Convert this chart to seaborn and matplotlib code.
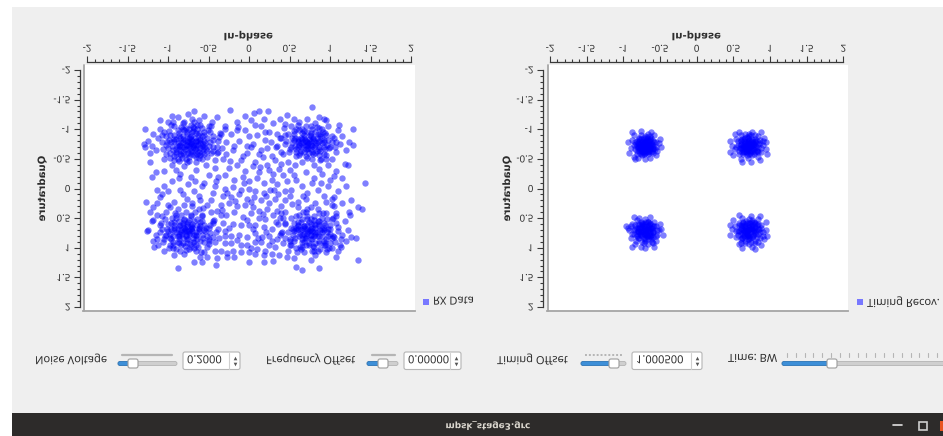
import numpy as np
import pandas as pd
import matplotlib
matplotlib.use("Agg")
import matplotlib.pyplot as plt
import seaborn as sns
from matplotlib.patches import Rectangle, FancyBboxPatch
from matplotlib.lines import Line2D
from matplotlib.patheffects import AbstractPathEffect
from matplotlib.transforms import Affine2D
from matplotlib.text import Text

# ---------------------------------------------------------------- data
tick_values = [-2, -1.5, -1, -0.5, 0, 0.5, 1, 1.5, 2]
tick_labels = ["-2", "-1.5", "-1", "-0.5", "0", "0.5", "1", "1.5", "2"]

# received samples (before timing recovery): I / Q pairs
rx_upper_left = [
    (-0.72, -0.76), (-0.65, -0.80), (-0.80, -0.70), (-0.58, -0.72), (-0.90, -0.84), (-0.70, -0.95),
    (-0.75, -0.60), (-0.62, -0.62), (-0.85, -0.58), (-0.95, -0.72), (-0.52, -0.85), (-0.68, -1.02),
    (-0.88, -0.98), (-1.02, -0.88), (-0.55, -0.58), (-0.78, -0.50), (-0.98, -0.60), (-0.45, -0.70),
    (-0.60, -1.08), (-0.82, -1.10), (-1.08, -0.78), (-0.48, -0.95), (-0.92, -0.48), (-0.66, -0.45),
    (-1.10, -1.00), (-0.40, -0.60), (-0.74, -0.86), (-0.84, -0.78), (-0.63, -0.90), (-0.57, -0.66),
    (-0.77, -0.66), (-0.87, -0.66), (-0.69, -0.70), (-0.93, -0.90), (-1.00, -1.12), (-0.50, -1.05),
    (-0.38, -0.80), (-1.15, -0.65), (-0.70, -1.18), (-0.95, -0.40), (-0.58, -0.50), (-0.42, -0.48),
    (-1.05, -0.50), (-0.80, -0.38), (-0.62, -1.15), (-0.88, -1.20), (-1.18, -0.92), (-0.33, -0.68),
    (-0.46, -1.12), (-1.20, -0.72), (-0.76, -0.80), (-0.66, -0.74), (-0.81, -0.88), (-0.73, -0.68),
    (-0.60, -0.82), (-0.85, -0.74), (-0.71, -0.88), (-0.64, -0.58), (-0.90, -0.62), (-0.54, -0.76),
    (-0.99, -0.82), (-0.78, -1.02), (-0.56, -0.96), (-1.05, -0.95), (-0.68, -0.56), (-0.47, -0.60),
    (-0.83, -0.52), (-0.93, -1.05), (-0.72, -1.08), (-0.44, -0.88), (-1.12, -0.85), (-0.36, -0.94),
    (-1.25, -0.80), (-1.28, -0.70), (-1.22, -0.60), (-0.30, -1.00), (-0.75, -1.25), (-0.55, -1.22),
    (-0.95, -1.22), (-1.10, -1.15), (-0.74, -0.72), (-0.70, -0.80), (-0.66, -0.68), (-0.79, -0.82),
    (-0.61, -0.77), (-0.83, -0.70), (-0.72, -0.64), (-0.67, -0.86), (-0.88, -0.77), (-0.58, -0.88),
    (-0.76, -0.92), (-0.90, -0.66), (-0.64, -0.63), (-0.81, -0.60), (-0.55, -0.70), (-0.96, -0.78),
    (-0.69, -0.97), (-0.86, -0.94), (-0.60, -0.56), (-0.74, -0.54), (-0.92, -0.55), (-1.00, -0.68),
    (-0.52, -0.64), (-0.80, -0.98), (-0.64, -1.00), (-0.73, -0.78), (-0.68, -0.74), (-0.77, -0.74),
    (-0.71, -0.84), (-0.63, -0.80), (-0.82, -0.84), (-0.86, -0.72), (-0.60, -0.68), (-0.70, -0.62),
    (-0.78, -0.58), (-0.66, -0.94), (-0.92, -0.80), (-0.56, -0.80), (-0.84, -0.64), (-0.74, -1.00),
    (-0.97, -0.90), (-0.50, -0.72), (-0.62, -0.52), (-0.88, -0.50), (-1.03, -0.74), (-0.58, -1.02),
    (-0.84, -1.04), (-0.45, -0.82), (-0.98, -0.52), (-0.68, -1.12), (-1.08, -0.90), (-0.40, -0.70),
    (-0.94, -1.12), (-0.76, -0.44), (-0.52, -0.54),
]
rx_upper_left_core = [
    (-0.71, -0.75), (-0.75, -0.79), (-0.69, -0.71), (-0.78, -0.73), (-0.66, -0.81), (-0.73, -0.87),
    (-0.81, -0.79), (-0.63, -0.73), (-0.85, -0.86), (-0.67, -0.66), (-0.79, -0.67), (-0.89, -0.71),
    (-0.60, -0.83), (-0.76, -0.96), (-0.71, -0.59), (-0.57, -0.75), (-0.93, -0.84), (-0.84, -0.57),
    (-0.62, -0.93), (-0.94, -0.65), (-0.53, -0.67), (-0.82, -1.01), (-0.65, -0.53), (-1.01, -0.79),
    (-0.55, -0.91), (-0.87, -0.89), (-0.69, -1.04), (-0.99, -0.97), (-0.48, -0.79), (-0.90, -0.58),
    (-0.74, -0.47), (-0.58, -0.60), (-1.06, -0.67), (-0.51, -0.98), (-0.80, -1.13), (-1.03, -0.58),
    (-0.44, -0.64), (-0.64, -1.08), (-0.96, -1.07), (-0.86, -0.46),
]
rx_upper_right = [
    (0.72, -0.78), (0.78, -0.72), (0.66, -0.84), (0.84, -0.86), (0.60, -0.70), (0.76, -0.94),
    (0.90, -0.76), (0.68, -0.62), (0.55, -0.82), (0.95, -0.90), (0.82, -0.60), (0.62, -0.98),
    (1.00, -0.70), (0.50, -0.66), (0.86, -1.02), (0.70, -1.05), (0.58, -0.55), (1.05, -0.85),
    (0.92, -0.58), (0.48, -0.92), (0.78, -0.50), (1.08, -0.62), (0.62, -1.12), (0.98, -1.05),
    (0.45, -0.75), (0.74, -0.84), (0.80, -0.80), (0.70, -0.72), (0.88, -0.92), (0.64, -0.76),
    (0.76, -0.66), (0.86, -0.70), (0.56, -0.92), (0.94, -0.66), (0.68, -0.90), (0.82, -1.10),
    (0.52, -1.05), (1.10, -0.98), (0.40, -0.85), (0.88, -0.48), (0.65, -0.45), (1.12, -0.75),
    (0.72, -1.18), (0.95, -1.15), (0.42, -0.58), (0.58, -0.62), (1.02, -0.50), (0.80, -0.40),
    (0.55, -1.18), (1.15, -0.88), (0.35, -0.72), (0.92, -0.82), (0.60, -0.84), (0.84, -0.64),
    (0.70, -0.55), (1.20, -0.65), (0.48, -0.45), (0.98, -0.40), (0.66, -1.00), (0.90, -1.00),
    (0.74, -0.76), (0.69, -0.82), (0.80, -0.70), (0.64, -0.70), (0.76, -0.88), (0.85, -0.78),
    (0.70, -0.66), (0.60, -0.80), (0.90, -0.85), (0.82, -0.95), (0.66, -0.93), (0.96, -0.74),
    (0.58, -0.66), (0.74, -0.60), (0.88, -0.64), (0.53, -0.76), (0.98, -0.82), (0.78, -1.00),
    (0.71, -0.74), (0.77, -0.80), (0.67, -0.78), (0.73, -0.68), (0.82, -0.74), (0.62, -0.74),
    (0.79, -0.86), (0.68, -0.86), (0.87, -0.80), (0.64, -0.64), (0.78, -0.62), (0.92, -0.70),
    (0.57, -0.86), (0.72, -0.96), (0.85, -0.92), (0.94, -0.94), (0.52, -0.70), (0.62, -0.56),
    (1.02, -0.78), (0.86, -0.56), (0.76, -1.06), (0.58, -1.00), (1.06, -0.70), (0.46, -0.80),
    (0.95, -0.50),
]
rx_upper_right_core = [
    (0.73, -0.77), (0.70, -0.80), (0.76, -0.74), (0.67, -0.73), (0.79, -0.83), (0.64, -0.86),
    (0.83, -0.76), (0.71, -0.67), (0.88, -0.88), (0.61, -0.79), (0.75, -0.91), (0.86, -0.67),
    (0.57, -0.71), (0.93, -0.79), (0.68, -0.97), (0.79, -0.58), (0.53, -0.86), (0.91, -0.96),
    (0.63, -0.60), (0.99, -0.69), (0.84, -1.04), (0.55, -0.97), (0.72, -0.52), (1.03, -0.88),
    (0.49, -0.62), (0.95, -0.56), (0.61, -1.07), (0.89, -0.50), (1.07, -0.79), (0.44, -0.91),
]
rx_lower_left = [
    (-0.78, 0.70), (-0.70, 0.65), (-0.86, 0.76), (-0.62, 0.72), (-0.92, 0.62), (-0.75, 0.85),
    (-0.68, 0.55), (-0.88, 0.90), (-1.00, 0.72), (-0.55, 0.62), (-0.80, 0.52), (-0.60, 0.88),
    (-1.05, 0.85), (-0.95, 0.50), (-0.48, 0.75), (-0.72, 0.98), (-0.90, 1.02), (-1.10, 0.62),
    (-0.58, 0.45), (-0.45, 0.55), (-0.78, 0.40), (-1.02, 0.40), (-0.65, 1.05), (-1.15, 0.78),
    (-0.42, 0.90), (-0.85, 0.62), (-0.74, 0.77), (-0.66, 0.80), (-0.94, 0.80), (-0.82, 0.84),
    (-0.70, 0.72), (-0.58, 0.78), (-0.77, 0.60), (-0.88, 0.68), (-0.98, 0.95), (-0.52, 0.98),
    (-1.12, 0.95), (-0.62, 0.35), (-0.88, 0.35), (-0.38, 0.68), (-1.20, 0.55), (-0.55, 1.08),
    (-0.80, 1.10), (-1.05, 1.05), (-0.35, 0.45), (-0.72, 0.45), (-0.96, 0.58), (-0.64, 0.62),
    (-0.84, 0.96), (-1.08, 0.68), (-0.50, 0.85), (-0.76, 0.92), (-0.68, 0.90), (-0.90, 0.45),
    (-0.47, 0.40), (-1.18, 0.88), (-0.30, 0.80), (-0.60, 1.15), (-0.92, 1.12), (-1.00, 0.28),
    (-0.70, 0.30), (-1.25, 0.70), (-0.42, 1.05), (-0.82, 0.58), (-0.58, 0.55), (-0.98, 0.84),
    (-0.74, 1.02), (-1.14, 0.45), (-0.50, 0.66), (-0.86, 0.80), (-0.80, 0.72), (-0.72, 0.68),
    (-0.84, 0.70), (-0.76, 0.64), (-0.68, 0.78), (-0.90, 0.74), (-0.62, 0.66), (-0.78, 0.80),
    (-0.86, 0.86), (-0.70, 0.60), (-0.96, 0.68), (-0.56, 0.70), (-0.82, 0.92), (-0.64, 0.86),
    (-0.92, 0.56), (-0.74, 0.54), (-1.02, 0.78), (-0.52, 0.80), (-0.66, 0.96), (-0.94, 0.90),
    (-0.79, 0.68), (-0.74, 0.72), (-0.83, 0.77), (-0.71, 0.63), (-0.87, 0.64), (-0.65, 0.74),
    (-0.77, 0.86), (-0.93, 0.70), (-0.60, 0.64), (-0.69, 0.84), (-0.86, 0.92), (-0.97, 0.76),
    (-0.54, 0.72), (-0.80, 0.54), (-0.64, 0.52), (-0.73, 0.94), (-1.00, 0.60), (-0.90, 0.50),
    (-0.56, 0.90), (-1.06, 0.90), (-0.48, 0.62), (-0.68, 1.00), (-0.94, 1.00), (-0.44, 0.82),
    (-1.10, 0.74), (-0.58, 0.46), (-0.84, 0.44), (-0.78, 1.04), (-1.04, 0.52), (-0.50, 0.94),
]
rx_lower_left_core = [
    (-0.77, 0.71), (-0.80, 0.67), (-0.73, 0.75), (-0.84, 0.73), (-0.70, 0.67), (-0.78, 0.79),
    (-0.88, 0.81), (-0.66, 0.78), (-0.82, 0.61), (-0.92, 0.67), (-0.62, 0.69), (-0.75, 0.57),
    (-0.96, 0.86), (-0.69, 0.91), (-0.87, 0.55), (-0.57, 0.83), (-1.01, 0.69), (-0.79, 0.97),
    (-0.60, 0.56), (-0.94, 0.95), (-0.53, 0.66), (-1.04, 0.81), (-0.71, 0.47), (-0.63, 0.99),
    (-0.91, 0.42), (-1.09, 0.58), (-0.50, 0.88), (-0.85, 1.06), (-0.45, 0.58), (-1.13, 0.86),
    (-0.67, 0.40), (-0.99, 1.01), (-0.59, 1.07), (-0.41, 0.74), (-1.07, 0.47),
]
rx_lower_right = [
    (0.75, 0.70), (0.82, 0.66), (0.68, 0.76), (0.90, 0.74), (0.60, 0.62), (0.78, 0.85),
    (0.85, 0.55), (0.65, 0.90), (0.98, 0.68), (0.55, 0.72), (0.72, 0.52), (0.92, 0.88),
    (0.50, 0.85), (1.02, 0.52), (0.62, 0.45), (0.80, 0.98), (1.05, 0.82), (0.45, 0.60),
    (0.95, 0.42), (0.70, 0.40), (0.58, 1.00), (1.10, 0.65), (0.88, 1.02), (0.42, 0.92),
    (1.12, 0.95), (0.76, 0.78), (0.84, 0.80), (0.66, 0.68), (0.94, 0.62), (0.72, 0.62),
    (0.88, 0.70), (0.62, 0.80), (1.00, 0.92), (0.52, 0.50), (0.80, 0.46), (1.08, 0.42),
    (0.40, 0.75), (1.15, 0.78), (0.68, 1.08), (0.95, 1.08), (0.48, 1.05), (0.38, 0.50),
    (1.18, 0.55), (0.85, 0.35), (0.60, 0.32), (1.05, 0.30), (0.74, 0.92), (0.92, 0.96),
    (0.56, 0.58), (1.00, 0.76), (0.86, 0.60), (0.70, 0.84), (0.64, 0.56), (0.96, 0.52),
    (0.78, 1.05), (0.35, 0.85), (1.20, 0.88), (0.52, 0.95), (0.82, 1.12), (1.02, 1.00),
    (0.44, 0.40), (0.90, 0.80), (0.66, 0.98), (0.58, 0.70), (1.10, 1.05), (0.80, 0.60),
    (0.72, 0.35), (1.22, 0.70), (0.78, 0.72), (0.72, 0.68), (0.84, 0.74), (0.68, 0.64),
    (0.80, 0.80), (0.90, 0.68), (0.64, 0.70), (0.76, 0.60), (0.86, 0.88), (0.70, 0.80),
    (0.96, 0.74), (0.58, 0.66), (0.82, 0.92), (0.66, 0.86), (0.92, 0.58), (0.76, 0.52),
    (1.02, 0.84), (0.54, 0.78), (0.70, 0.96), (0.94, 0.92), (0.76, 0.68), (0.71, 0.72),
    (0.81, 0.77), (0.68, 0.63), (0.86, 0.64), (0.63, 0.76), (0.76, 0.86), (0.92, 0.70),
    (0.60, 0.64), (0.69, 0.84), (0.86, 0.92), (0.98, 0.80), (0.54, 0.68), (0.80, 0.54),
    (0.66, 0.52), (0.74, 0.96), (1.00, 0.62), (0.90, 0.50), (0.56, 0.88), (1.06, 0.90),
    (0.48, 0.74), (0.64, 1.02), (0.96, 1.02), (0.44, 0.84), (1.10, 0.72), (0.58, 0.46),
    (0.86, 0.42), (0.80, 1.06), (1.04, 0.50), (0.50, 0.96),
]
rx_lower_right_core = [
    (0.74, 0.71), (0.78, 0.66), (0.71, 0.75), (0.82, 0.73), (0.68, 0.67), (0.77, 0.79),
    (0.87, 0.81), (0.65, 0.78), (0.82, 0.61), (0.92, 0.67), (0.61, 0.69), (0.74, 0.57),
    (0.95, 0.86), (0.68, 0.91), (0.87, 0.55), (0.57, 0.83), (1.00, 0.69), (0.79, 0.97),
    (0.60, 0.56), (0.94, 0.95), (0.52, 0.66), (1.04, 0.81), (0.71, 0.47), (0.63, 0.99),
    (0.91, 0.42), (1.08, 0.58), (0.50, 0.88), (0.85, 1.06), (0.45, 0.58), (1.13, 0.86),
    (0.67, 0.40), (0.99, 1.01), (0.59, 1.07), (0.41, 0.74), (1.07, 0.47),
]
rx_between = [
    (-0.30, -1.05), (-0.15, -1.12), (0.02, -1.15), (0.15, -1.05), (0.30, -1.10), (-0.22, -0.92),
    (-0.05, -0.98), (0.10, -0.90), (0.25, -0.95), (0.38, -0.85), (-0.28, -0.78), (-0.12, -0.80),
    (0.05, -0.75), (0.20, -0.82), (0.33, -0.70), (-0.20, -0.65), (-0.02, -0.60), (0.15, -0.65),
    (0.28, -0.55), (-0.32, -0.50), (-0.10, -0.48), (0.08, -0.45), (0.22, -0.40), (0.40, -0.42),
    (-0.25, -0.35), (-0.05, -0.30), (0.12, -0.28), (0.30, -0.25), (-0.38, -0.20), (-0.18, -0.15),
    (0.00, -0.12), (0.18, -0.10), (0.35, -0.08), (-0.30, 0.00), (-0.10, 0.02), (0.08, 0.05),
    (0.26, 0.02), (0.45, 0.05), (-0.22, 0.15), (-0.02, 0.18), (0.15, 0.20), (0.32, 0.18),
    (-0.35, 0.28), (-0.15, 0.30), (0.05, 0.32), (0.22, 0.35), (0.40, 0.30), (-0.28, 0.45),
    (-0.08, 0.48), (0.12, 0.50), (0.30, 0.45), (-0.20, 0.60), (0.00, 0.62), (0.18, 0.65),
    (0.36, 0.60), (-0.30, 0.72), (-0.12, 0.78), (0.08, 0.75), (0.25, 0.80), (-0.22, 0.92),
    (-0.02, 0.95), (0.15, 0.90), (0.32, 0.98), (-0.35, 1.05), (-0.10, 1.08), (0.10, 1.02),
    (0.28, 1.10), (-1.05, -0.30), (-0.85, -0.25), (-0.65, -0.32), (-0.50, -0.22), (-0.95, -0.12),
    (-0.75, -0.08), (-0.58, -0.05), (-1.00, 0.05), (-0.82, 0.10), (-0.62, 0.12), (-0.45, 0.08),
    (-0.92, 0.22), (-0.70, 0.25), (-0.52, 0.28), (-1.10, 0.15), (0.50, -0.32), (0.70, -0.28),
    (0.90, -0.25), (1.08, -0.30), (0.58, -0.15), (0.78, -0.10), (0.98, -0.05), (0.52, 0.02),
    (0.72, 0.08), (0.92, 0.12), (1.10, 0.05), (0.60, 0.22), (0.82, 0.25), (1.02, 0.28),
    (1.15, -0.18), (-0.40, -1.20), (-0.05, -1.22), (0.18, -1.18), (0.38, -1.18), (-0.35, -0.92),
    (-0.15, -0.98), (0.00, -0.88), (0.20, -0.95), (0.34, -0.92), (-0.38, -0.62), (-0.18, -0.72),
    (0.02, -0.70), (0.22, -0.68), (0.40, -0.62), (-0.28, -0.58), (-0.08, -0.55), (0.12, -0.58),
    (0.32, -0.48), (-0.42, -0.35), (-0.15, -0.40), (0.05, -0.38), (0.25, -0.32), (0.42, -0.22),
    (-0.30, -0.22), (-0.08, -0.20), (0.10, -0.18), (0.28, -0.14), (-0.42, -0.05), (-0.20, -0.02),
    (0.00, 0.00), (0.18, 0.08), (0.36, 0.10), (-0.32, 0.12), (-0.12, 0.10), (0.06, 0.14),
    (0.25, 0.25), (0.45, 0.20), (-0.25, 0.25), (-0.05, 0.28), (0.12, 0.38), (0.35, 0.38),
    (-0.40, 0.38), (-0.18, 0.40), (0.02, 0.42), (0.20, 0.52), (0.42, 0.50), (-0.32, 0.58),
    (-0.10, 0.62), (0.08, 0.62), (0.28, 0.68), (-0.22, 0.80), (-0.02, 0.82), (0.16, 0.82),
    (0.38, 0.78), (-0.30, 0.92), (-0.10, 0.95), (0.08, 0.90), (0.25, 0.95), (-0.20, 1.05),
    (0.00, 1.08), (0.20, 1.05), (-0.40, 1.18), (0.30, 1.22), (-1.20, -0.20), (-0.90, -0.32),
    (-0.72, -0.20), (-0.55, -0.10), (-1.05, -0.05), (-0.85, 0.02), (-0.68, 0.05), (-1.18, 0.32),
    (-0.80, 0.28), (-0.60, 0.20), (0.55, -0.22), (0.80, -0.18), (1.00, -0.15), (0.65, -0.05),
    (0.85, 0.02), (1.20, -0.05), (0.70, 0.18), (0.95, 0.22), (1.15, 0.25), (0.50, 0.12),
]
rx_between_extra = [
    (-0.37, -0.87), (-0.13, -1.03), (0.07, -1.07), (0.27, -0.79), (0.43, -1.02), (-0.23, -0.47),
    (-0.03, -0.71), (0.17, -0.53), (0.37, -0.33), (-0.41, -0.13), (-0.27, 0.07), (-0.06, -0.09),
    (0.13, -0.37), (0.31, 0.03), (0.47, -0.13), (-0.47, 0.19), (-0.17, 0.21), (0.03, 0.23),
    (0.21, 0.13), (0.39, 0.41), (-0.33, 0.37), (-0.03, 0.53), (0.17, 0.43), (0.33, 0.57),
    (-0.43, 0.53), (-0.25, 0.67), (0.05, 0.69), (0.21, 0.73), (-0.37, 0.83), (-0.15, 0.87),
    (0.11, 0.83), (0.29, 0.89), (-0.27, 1.09), (0.03, 1.01), (0.19, 1.13), (-0.53, -0.39),
    (-0.87, -0.17), (-1.07, 0.09), (-0.67, -0.13), (-0.77, 0.17), (-0.57, 0.33), (-0.97, 0.31),
    (0.57, -0.39), (0.87, -0.33), (1.05, -0.21), (0.67, 0.13), (0.89, -0.09), (1.03, 0.17),
    (0.77, 0.31), (0.53, 0.27), (-0.47, -1.05), (0.45, -1.09), (-0.52, 1.15), (0.55, 1.18),
    (-1.22, -0.45), (1.22, -0.40), (-1.22, 0.40), (1.25, 0.45),
]
rx_outer = [
    (-0.23, -1.32), (0.06, -1.27), (0.12, -1.30), (0.23, -1.30), (-0.68, -1.30), (0.78, -1.37),
    (0.47, -1.24), (0.86, -1.21), (0.93, -1.18), (1.11, -1.07), (1.29, -1.01), (1.28, -0.73),
    (1.23, -0.79), (1.19, -0.42), (1.43, -0.10), (1.40, 0.34), (1.34, 0.31), (1.32, 0.84),
    (1.26, 0.82), (1.34, 1.21), (1.26, 0.20), (1.23, 0.39), (1.05, 0.14), (-1.30, -0.75),
    (-1.28, -1.01), (-1.27, 0.23), (-1.26, 0.71), (-1.17, 0.98), (-1.13, 0.03), (-1.15, -0.28),
    (-1.19, 0.53), (-1.13, 0.25), (-0.88, 1.35), (-0.68, 1.24), (-0.58, 1.24), (-0.41, 1.29),
    (-0.19, 1.15), (0.00, 1.24), (0.19, 1.24), (0.08, 1.10), (0.37, 1.13), (0.47, 1.15),
    (0.58, 1.32), (0.66, 1.37), (0.86, 1.35), (0.76, 1.21), (1.07, 1.15), (1.13, 0.98),
    (-0.27, 1.15),
]

# samples after timing recovery
tr_upper_left = [
    (-0.70, -0.71), (-0.64, -0.74), (-0.76, -0.68), (-0.68, -0.80), (-0.73, -0.62), (-0.60, -0.66),
    (-0.80, -0.76), (-0.66, -0.58), (-0.78, -0.84), (-0.58, -0.78), (-0.84, -0.66), (-0.62, -0.86),
    (-0.74, -0.56), (-0.86, -0.74), (-0.56, -0.70), (-0.70, -0.88), (-0.82, -0.58), (-0.60, -0.60),
    (-0.88, -0.82), (-0.54, -0.64), (-0.76, -0.90), (-0.66, -0.92), (-0.52, -0.76), (-0.90, -0.68),
    (-0.80, -0.52), (-0.64, -0.52), (-0.72, -0.76), (-0.68, -0.66), (-0.77, -0.72), (-0.63, -0.70),
    (-0.71, -0.83), (-0.74, -0.64), (-0.86, -0.90), (-0.50, -0.84), (-0.92, -0.60), (-0.58, -0.90),
    (-0.84, -0.50), (-0.94, -0.78), (-0.48, -0.70), (-0.70, -0.50), (-0.88, -0.95), (-0.62, -0.96),
    (-0.56, -0.56), (-0.85, -0.53), (-0.76, -0.97), (-0.70, -0.70), (-0.66, -0.72), (-0.74, -0.74),
    (-0.68, -0.64), (-0.72, -0.67), (-0.62, -0.74), (-0.78, -0.70), (-0.70, -0.78), (-0.65, -0.80),
    (-0.75, -0.80), (-0.61, -0.64), (-0.79, -0.64), (-0.67, -0.69), (-0.73, -0.71), (-0.69, -0.75),
    (-0.64, -0.67), (-0.76, -0.77), (-0.71, -0.60), (-0.63, -0.82), (-0.81, -0.72), (-0.59, -0.72),
    (-0.77, -0.60), (-0.72, -0.86), (-0.66, -0.62), (-0.82, -0.80), (-0.57, -0.66), (-0.68, -0.84),
    (-0.75, -0.66), (-0.62, -0.77), (-0.80, -0.68), (-0.84, -0.78), (-0.55, -0.78), (-0.74, -0.59),
    (-0.64, -0.89), (-0.79, -0.86),
]
tr_upper_left_core = [
    (-0.71, -0.72), (-0.69, -0.69), (-0.73, -0.69), (-0.67, -0.74), (-0.72, -0.77), (-0.68, -0.67),
    (-0.75, -0.73), (-0.65, -0.70), (-0.70, -0.65), (-0.74, -0.78), (-0.66, -0.77), (-0.77, -0.67),
    (-0.63, -0.68), (-0.71, -0.81), (-0.69, -0.62), (-0.78, -0.75), (-0.61, -0.75), (-0.75, -0.63),
    (-0.65, -0.63), (-0.76, -0.83), (-0.64, -0.84), (-0.80, -0.70), (-0.59, -0.69), (-0.72, -0.58),
    (-0.68, -0.87), (-0.82, -0.64), (-0.60, -0.80), (-0.79, -0.80), (-0.62, -0.61), (-0.83, -0.75),
]
tr_upper_right = [
    (0.70, -0.71), (0.76, -0.68), (0.64, -0.75), (0.72, -0.82), (0.67, -0.61), (0.80, -0.78),
    (0.60, -0.68), (0.78, -0.58), (0.62, -0.84), (0.84, -0.70), (0.56, -0.74), (0.74, -0.90),
    (0.88, -0.62), (0.58, -0.58), (0.86, -0.82), (0.66, -0.92), (0.52, -0.66), (0.90, -0.74),
    (0.70, -0.52), (0.80, -0.90), (0.54, -0.84), (0.92, -0.86), (0.60, -0.50), (0.84, -0.54),
    (0.68, -0.76), (0.74, -0.64), (0.63, -0.71), (0.77, -0.74), (0.70, -0.86), (0.82, -0.64),
    (0.48, -0.72), (0.95, -0.66), (0.76, -0.96), (0.58, -0.95), (0.88, -0.95), (0.50, -0.56),
    (0.94, -0.78), (0.45, -0.81), (0.74, -0.45), (0.86, -0.48), (0.62, -0.44), (0.96, -0.58),
    (0.52, -0.92), (0.46, -0.62), (0.70, -0.70), (0.74, -0.72), (0.66, -0.70), (0.72, -0.64),
    (0.68, -0.78), (0.78, -0.66), (0.62, -0.66), (0.70, -0.76), (0.75, -0.80), (0.64, -0.80),
    (0.80, -0.72), (0.60, -0.74), (0.73, -0.60), (0.67, -0.66), (0.77, -0.76), (0.66, -0.86),
    (0.82, -0.80), (0.58, -0.64), (0.71, -0.88), (0.84, -0.62), (0.63, -0.58), (0.79, -0.84),
    (0.56, -0.80), (0.86, -0.76), (0.69, -0.57), (0.61, -0.90), (0.83, -0.88), (0.76, -0.56),
    (0.54, -0.70), (0.88, -0.68), (0.72, -0.92), (0.65, -0.62), (0.80, -0.62), (0.91, -0.80),
    (0.60, -0.82),
]
tr_upper_right_core = [
    (0.71, -0.72), (0.69, -0.69), (0.73, -0.70), (0.67, -0.74), (0.72, -0.77), (0.68, -0.66),
    (0.75, -0.73), (0.65, -0.71), (0.70, -0.65), (0.74, -0.78), (0.66, -0.77), (0.77, -0.67),
    (0.63, -0.68), (0.71, -0.81), (0.69, -0.62), (0.78, -0.75), (0.61, -0.75), (0.76, -0.63),
    (0.65, -0.63), (0.76, -0.83), (0.64, -0.84), (0.81, -0.70), (0.59, -0.69), (0.72, -0.58),
    (0.68, -0.87), (0.82, -0.64), (0.60, -0.80), (0.79, -0.80), (0.62, -0.61), (0.84, -0.75),
]
tr_lower_left = [
    (-0.70, 0.70), (-0.64, 0.66), (-0.76, 0.74), (-0.68, 0.80), (-0.74, 0.60), (-0.60, 0.74),
    (-0.82, 0.66), (-0.66, 0.56), (-0.80, 0.84), (-0.56, 0.64), (-0.86, 0.76), (-0.62, 0.86),
    (-0.74, 0.90), (-0.88, 0.60), (-0.54, 0.78), (-0.70, 0.52), (-0.82, 0.54), (-0.58, 0.56),
    (-0.90, 0.84), (-0.66, 0.94), (-0.52, 0.70), (-0.84, 0.94), (-0.78, 0.50), (-0.60, 0.92),
    (-0.72, 0.76), (-0.66, 0.70), (-0.76, 0.66), (-0.62, 0.78), (-0.80, 0.74), (-0.70, 0.86),
    (-0.92, 0.70), (-0.50, 0.60), (-0.94, 0.66), (-0.56, 0.88), (-0.86, 0.48), (-0.64, 0.48),
    (-0.76, 0.98), (-0.46, 0.78), (-0.96, 0.64), (-0.58, 0.98), (-0.88, 0.98), (-0.48, 0.68),
    (-0.70, 1.00), (-0.70, 0.70), (-0.74, 0.72), (-0.66, 0.70), (-0.72, 0.64), (-0.68, 0.78),
    (-0.78, 0.66), (-0.62, 0.66), (-0.70, 0.76), (-0.75, 0.80), (-0.64, 0.80), (-0.80, 0.72),
    (-0.60, 0.74), (-0.73, 0.60), (-0.67, 0.66), (-0.77, 0.76), (-0.66, 0.86), (-0.82, 0.80),
    (-0.58, 0.64), (-0.71, 0.88), (-0.84, 0.62), (-0.63, 0.58), (-0.79, 0.84), (-0.56, 0.80),
    (-0.86, 0.70), (-0.69, 0.57), (-0.61, 0.90), (-0.83, 0.88), (-0.76, 0.56), (-0.54, 0.70),
    (-0.88, 0.76), (-0.72, 0.92), (-0.65, 0.62), (-0.80, 0.60), (-0.90, 0.64), (-0.60, 0.82),
]
tr_lower_left_core = [
    (-0.71, 0.69), (-0.68, 0.72), (-0.73, 0.72), (-0.67, 0.67), (-0.72, 0.64), (-0.69, 0.75),
    (-0.75, 0.68), (-0.64, 0.71), (-0.70, 0.77), (-0.74, 0.63), (-0.66, 0.64), (-0.77, 0.74),
    (-0.63, 0.75), (-0.71, 0.60), (-0.68, 0.80), (-0.78, 0.66), (-0.61, 0.67), (-0.76, 0.79),
    (-0.65, 0.79), (-0.75, 0.58), (-0.63, 0.60), (-0.80, 0.71), (-0.59, 0.72), (-0.72, 0.83),
    (-0.67, 0.56), (-0.82, 0.78), (-0.60, 0.63), (-0.79, 0.61), (-0.62, 0.82), (-0.84, 0.68),
]
tr_lower_right = [
    (0.70, 0.70), (0.76, 0.66), (0.64, 0.74), (0.72, 0.80), (0.66, 0.60), (0.80, 0.76),
    (0.60, 0.66), (0.78, 0.56), (0.62, 0.84), (0.84, 0.68), (0.56, 0.72), (0.74, 0.90),
    (0.88, 0.62), (0.58, 0.58), (0.86, 0.84), (0.66, 0.92), (0.52, 0.64), (0.90, 0.74),
    (0.72, 0.52), (0.80, 0.92), (0.54, 0.82), (0.92, 0.86), (0.62, 0.50), (0.84, 0.52),
    (0.68, 0.76), (0.74, 0.64), (0.63, 0.70), (0.77, 0.72), (0.70, 0.86), (0.82, 0.62),
    (0.48, 0.68), (0.95, 0.70), (0.76, 0.98), (0.58, 0.94), (0.88, 0.96), (0.50, 0.54),
    (0.96, 0.80), (0.46, 0.62), (0.74, 0.46), (0.86, 0.46), (0.58, 0.44), (0.62, 1.00),
    (0.80, 1.02), (0.94, 0.56), (0.45, 0.78), (0.70, 0.70), (0.74, 0.68), (0.66, 0.72),
    (0.72, 0.62), (0.68, 0.80), (0.78, 0.70), (0.62, 0.64), (0.70, 0.76), (0.75, 0.82),
    (0.64, 0.78), (0.80, 0.66), (0.60, 0.76), (0.73, 0.58), (0.67, 0.68), (0.77, 0.78),
    (0.66, 0.88), (0.82, 0.82), (0.58, 0.62), (0.71, 0.86), (0.84, 0.60), (0.63, 0.56),
    (0.79, 0.88), (0.56, 0.78), (0.86, 0.74), (0.69, 0.59), (0.61, 0.92), (0.83, 0.90),
    (0.76, 0.54), (0.54, 0.72), (0.88, 0.66), (0.72, 0.94), (0.65, 0.64), (0.80, 0.58),
    (0.90, 0.80), (0.60, 0.86),
]
tr_lower_right_core = [
    (0.71, 0.69), (0.68, 0.72), (0.74, 0.71), (0.67, 0.66), (0.72, 0.65), (0.69, 0.76),
    (0.76, 0.68), (0.64, 0.70), (0.70, 0.78), (0.75, 0.62), (0.66, 0.63), (0.78, 0.74),
    (0.62, 0.75), (0.71, 0.59), (0.68, 0.81), (0.79, 0.65), (0.61, 0.68), (0.77, 0.80),
    (0.65, 0.80), (0.75, 0.57), (0.63, 0.59), (0.81, 0.71), (0.58, 0.71), (0.73, 0.84),
    (0.67, 0.55), (0.83, 0.77), (0.60, 0.62), (0.80, 0.60), (0.62, 0.84), (0.85, 0.69),
]

# control values
noise_voltage = "0.2000"
frequency_offset = "0.00000"
timing_offset = "1.000500"

# ---------------------------------------------------------------- style
W, H = 943, 436
sns.set_theme(style="ticks")
plt.rcParams["font.family"] = ["Noto Sans", "DejaVu Sans"]
plt.rcParams["axes.unicode_minus"] = False

BLUE = "#0000ff"
TEXT = "#2e2e2e"
GRAY_BG = "#efefef"
BOLD = ["DejaVu Sans"]


class MirrorY(AbstractPathEffect):
    """Render glyphs reflected top-to-bottom about their own midline."""

    def draw_path(self, renderer, gc, tpath, affine, rgbFace=None):
        ext = tpath.get_extents(affine)
        cy = 0.5 * (ext.y0 + ext.y1)
        flip = Affine2D().translate(0, -cy).scale(1, -1).translate(0, cy)
        renderer.draw_path(gc, tpath, affine + flip, rgbFace)


fig = plt.figure(figsize=(W / 100, H / 100), dpi=100, facecolor="white")


def frac_box(x0, y0, x1, y1):
    return [x0 / W, 1 - y1 / H, (x1 - x0) / W, (y1 - y0) / H]


# pixel-space layers behind and in front of the plots
bg = fig.add_axes([0, 0, 1, 1], zorder=0)
bg.set_xlim(0, W)
bg.set_ylim(H, 0)
bg.axis("off")
fg = fig.add_axes([0, 0, 1, 1], zorder=5)
fg.set_xlim(0, W)
fg.set_ylim(H, 0)
fg.axis("off")

bg.add_patch(Rectangle((12, 7), W - 12, 406, facecolor=GRAY_BG, edgecolor="none"))
bg.add_patch(Rectangle((12, 413), W - 12, 23, facecolor="#2d2b2a", edgecolor="none"))


# ---------------------------------------------------------------- constellations
def constellation(canvas, xs, ys, x_line, y_line, groups, title_x, quad_x, legend_x, legend_label):
    cx0, cy0, cx1, cy1 = canvas
    ax = fig.add_axes(frac_box(cx0, cy0, cx1, cy1), zorder=2)
    ax.set_facecolor("white")

    pts = pd.DataFrame([p for g in groups for p in g], columns=["I", "Q"])
    sns.scatterplot(data=pts, x="I", y="Q", ax=ax, color=BLUE, alpha=0.5,
                    s=21, linewidth=0, legend=False)
    ax.set_xlabel("")
    ax.set_ylabel("")

    ux = 4.0 / (xs[1] - xs[0])
    uy = 4.0 / (ys[1] - ys[0])
    ax.set_xlim(-2 - (xs[0] - cx0) * ux, 2 + (cx1 - xs[1]) * ux)
    ax.set_ylim(2 + (cy1 - ys[1]) * uy, -2 - (ys[0] - cy0) * uy)

    ax.xaxis.set_ticks_position("top")
    ax.yaxis.set_ticks_position("left")
    ax.set_xticks(tick_values)
    ax.set_xticklabels(tick_labels)
    ax.set_yticks(tick_values)
    ax.set_yticklabels(tick_labels)
    minor = np.round(np.arange(-2, 2.001, 0.1), 2)
    ax.set_xticks(minor, minor=True)
    ax.set_yticks(minor, minor=True)
    ax.tick_params(which="both", direction="out", color="#3a3a3a", width=0.8,
                   labelsize=7, labelcolor=TEXT)
    ax.tick_params(which="major", length=4.3)
    ax.tick_params(which="minor", length=2.2)
    ax.tick_params(axis="x", which="major", pad=1.6)
    ax.tick_params(axis="y", which="major", pad=2.6)

    ax.spines["right"].set_visible(False)
    ax.spines["top"].set_position(("outward", (cy0 - x_line) * 0.72))
    ax.spines["top"].set_bounds(-2, 2)
    ax.spines["left"].set_position(("outward", (cx0 - y_line) * 0.72))
    ax.spines["left"].set_bounds(-2, 2)
    for s in ("top", "left"):
        ax.spines[s].set_color("#3a3a3a")
        ax.spines[s].set_linewidth(0.9)
    ax.spines["bottom"].set_color("#a5a5a5")
    ax.spines["bottom"].set_linewidth(1.3)
    fg.add_line(Line2D([cx0 + 0.5, cx0 + 0.5], [cy0, cy1], color="#a5a5a5", lw=1.3))

    fg.text(title_x, 35.5, "In-phase", ha="center", va="center", fontsize=7.3,
            fontweight="bold", family=BOLD, color=TEXT)
    fg.text(quad_x, 188.5, "Quadrature", ha="center", va="center", rotation=90,
            fontsize=7.3, fontweight="bold", family=BOLD, color=TEXT)
    fg.add_patch(Rectangle((legend_x, 299), 6, 6, facecolor="#7878ff", edgecolor="none"))
    fg.text(legend_x + 10, 302, legend_label, ha="left", va="center", fontsize=8, color=TEXT)
    return ax


constellation((83, 65, 415, 311), (87, 411), (70, 307), 62, 80,
              [rx_upper_left, rx_upper_left_core, rx_upper_right, rx_upper_right_core,
               rx_lower_left, rx_lower_left_core, rx_lower_right, rx_lower_right_core,
               rx_between, rx_between_extra, rx_outer],
              248, 42, 423, "RX Data")
constellation((547, 65, 848, 311), (550, 843.3), (70, 307), 62, 543,
              [tr_upper_left, tr_upper_left_core, tr_upper_right, tr_upper_right_core,
               tr_lower_left, tr_lower_left_core, tr_lower_right, tr_lower_right_core],
              696, 507, 857, "Timing Recov.")


# ---------------------------------------------------------------- controls
def slider(x0, x1, handle_x, y=363.5):
    bg.add_patch(FancyBboxPatch((x0, y - 2), x1 - x0, 4,
                                boxstyle="round,pad=0,rounding_size=2",
                                facecolor="#cfcfcf", edgecolor="#b3b3b3", lw=0.6))
    bg.add_patch(FancyBboxPatch((x0, y - 2), handle_x - x0, 4,
                                boxstyle="round,pad=0,rounding_size=2",
                                facecolor="#3d8fd8", edgecolor="#2f78ba", lw=0.6))
    bg.add_patch(FancyBboxPatch((handle_x - 5, y - 4.5), 10, 9,
                                boxstyle="round,pad=0,rounding_size=2",
                                facecolor="white", edgecolor="#9d9d9d", lw=0.8))


def spinbox(x0, x1, value, y0=352, y1=369.5):
    bg.add_patch(FancyBboxPatch((x0, y0), x1 - x0, y1 - y0,
                                boxstyle="round,pad=0,rounding_size=2",
                                facecolor="white", edgecolor="#b5b5b5", lw=0.8))
    bg.add_line(Line2D([x1 - 11, x1 - 11], [y0 + 1, y1 - 1], color="#d0d0d0", lw=0.8))
    bg.plot([x1 - 5.5], [y0 + 6], marker="^", ms=2.6, color="#555555", mew=0)
    bg.plot([x1 - 5.5], [y1 - 6], marker="v", ms=2.6, color="#555555", mew=0)
    bg.text(x0 + 4, (y0 + y1) / 2, value, ha="left", va="center", fontsize=8, color=TEXT)


bg.text(35, 359.5, "Noise Voltage", ha="left", va="center", fontsize=8, color=TEXT)
bg.add_line(Line2D([122, 172], [355, 355], color="#b5b5b5", lw=1.6))
slider(118, 177, 133)
spinbox(183, 240, noise_voltage)

bg.text(266, 359.5, "Frequency Offset", ha="left", va="center", fontsize=8, color=TEXT)
bg.add_line(Line2D([372, 395], [355, 355], color="#b5b5b5", lw=1.6))
slider(367, 398, 383)
spinbox(404, 461, frequency_offset)

bg.text(497, 359.5, "Timing Offset", ha="left", va="center", fontsize=8, color=TEXT)
bg.add_line(Line2D([585, 622], [355, 355], color="#b5b5b5", lw=1.4, ls=(0, (1, 1))))
slider(581, 626, 614)
spinbox(632, 702, timing_offset)

bg.text(728, 359.5, "Time: BW", ha="left", va="center", fontsize=8, color=TEXT)
for tx in np.linspace(787, 937, 18):
    bg.add_line(Line2D([tx, tx], [353, 357], color="#b5b5b5", lw=0.8))
slider(782, 945, 832)

# ---------------------------------------------------------------- title bar
fg.text(488, 425.5, "mpsk_stage3.grc", ha="center", va="center", fontsize=6.4,
        fontweight="bold", family=BOLD, color="#dcd8d0")
fg.add_line(Line2D([893, 902], [425, 425], color="#e0e0e0", lw=1.2))
fg.add_patch(Rectangle((918.5, 421.5), 8.5, 8.5, facecolor="none", edgecolor="#cfcfcf", lw=1.2))
fg.add_patch(Rectangle((940, 421), 3, 10, facecolor="#e95420", edgecolor="none"))

# ---------------------------------------------------------------- mirrored glyphs
fig.canvas.draw()
for t in fig.findobj(Text):
    if t.get_text():
        t.set_path_effects([MirrorY()])

fig.savefig("out.png", dpi=100, facecolor=fig.get_facecolor())
